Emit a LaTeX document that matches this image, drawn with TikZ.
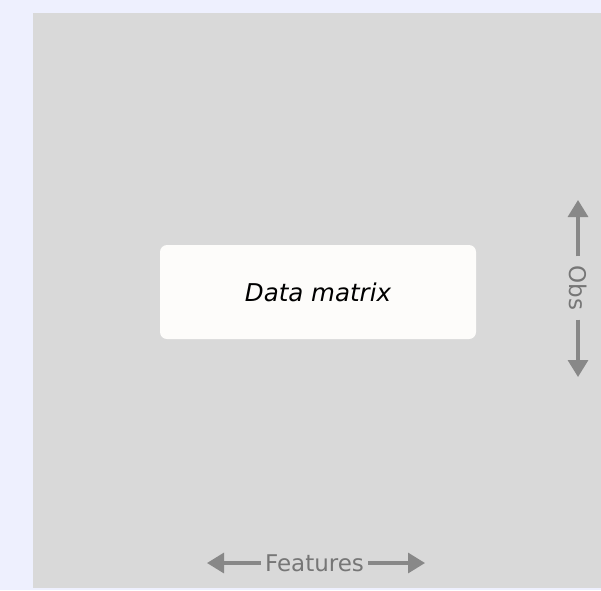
\documentclass[tikz,border=0pt]{standalone}
\usepackage{fontspec}
\setmainfont{DejaVu Sans}
\usetikzlibrary{arrows.meta}

\definecolor{pagebg}{RGB}{238,240,254}
\definecolor{panelgray}{RGB}{217,217,217}
\definecolor{boxwhite}{RGB}{253,252,250}
\definecolor{axisgray}{RGB}{136,136,136}
\definecolor{labelgray}{RGB}{118,118,118}

\begin{document}
\begin{tikzpicture}[x=1pt,y=1pt,yscale=-1,xscale=1,
  axisarrow/.style={draw=axisgray,line width=3.2pt,-{Triangle[length=17pt,width=20pt]}},
  axislabel/.style={text=labelgray,font=\fontsize{23}{27}\selectfont,inner sep=4pt},
  databox/.style={fill=boxwhite,rounded corners=7pt,minimum width=316pt,minimum height=94pt,
    font=\fontsize{24.5}{28}\selectfont\itshape}]
%set diagram size to the page
\useasboundingbox (0,0) rectangle (601,590);

%Shape: page background
\fill[pagebg] (0,0) rectangle (601,590);
%Shape: grey panel
\fill[panelgray] (33,13) rectangle (601,588);

% Text Node
\node[databox] (data) at (318,292) {Data matrix};

% Text Node
\node[axislabel] (feat) at (314.5,563) {Features};
\coordinate (featL) at (207,563);
\coordinate (featR) at (425,563);
%Straight Lines
\draw[axisarrow] (feat) -- (featL);
\draw[axisarrow] (feat) -- (featR);

% Text Node
\node[axislabel,rotate=-90,inner sep=9pt] (obs) at (578,288) {Obs};
\coordinate (obsT) at (578,200);
\coordinate (obsB) at (578,377);
%Straight Lines
\draw[axisarrow] (obs) -- (obsT);
\draw[axisarrow] (obs) -- (obsB);

\end{tikzpicture}
\end{document}
